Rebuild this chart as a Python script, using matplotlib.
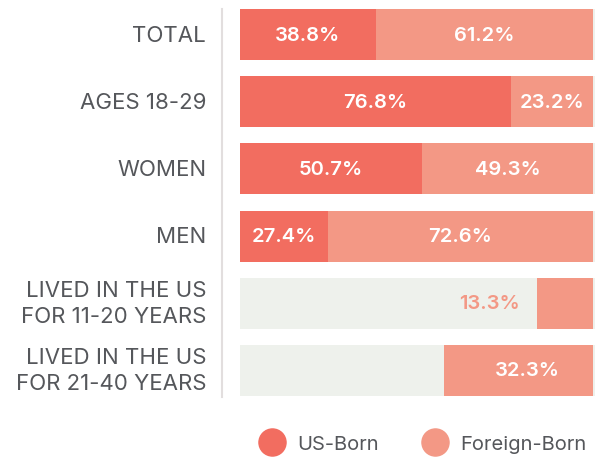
import matplotlib
matplotlib.use("Agg")
import matplotlib.pyplot as plt
from matplotlib.lines import Line2D

categories = ["TOTAL", "AGES 18-29", "WOMEN", "MEN",
              "LIVED IN THE US\nFOR 11-20 YEARS", "LIVED IN THE US\nFOR 21-40 YEARS"]
# values as labelled
us_born = [38.8, 76.8, 50.7, 27.4, None, None]
foreign_born = [61.2, 23.2, 49.3, 72.6, 13.3, 32.3]
# bar lengths as drawn in the picture
us_born_len = [38.5, 76.8, 51.6, 24.9, 0.0, 0.0]
foreign_born_len = [61.5, 23.2, 48.4, 75.1, 15.9, 42.2]
series_names = ["US-Born", "Foreign-Born"]

US_C = "#F26D60"
FB_C = "#F39885"
BG_C = "#EEF1EC"
TXT_C = "#55575B"

plt.rcParams['font.family'] = ['Inter', 'DejaVu Sans']

fig = plt.figure(figsize=(6, 4.6), dpi=100)
ax = fig.add_axes([0.4, 1 - 405 / 460, 355 / 600, 403 / 460])

n = len(categories)
ys = list(range(n))
h = 0.76
ax.barh(ys, [100.6] * n, height=h, color=BG_C, zorder=1)
ax.barh(ys, us_born_len, height=h, color=US_C, zorder=2)
lefts = [100 - f for f in foreign_born_len]
ax.barh(ys, foreign_born_len, left=lefts, height=h, color=FB_C, zorder=2)

VS = 14.5
for i in ys:
    fb_lab = f"{foreign_born[i]:.1f}%"
    if us_born[i] is not None:
        ax.text(us_born_len[i] / 2, i, f"{us_born[i]:.1f}%", ha="center", va="center",
                color="white", fontsize=VS, fontweight=600, zorder=3)
        ax.text(lefts[i] + foreign_born_len[i] / 2, i, fb_lab, ha="center",
                va="center", color="white", fontsize=VS, fontweight=600, zorder=3)
    else:
        if foreign_born_len[i] < 25:
            ax.text(lefts[i] - 4.8, i, fb_lab, ha="right", va="center",
                    color=FB_C, fontsize=VS, fontweight=600, zorder=3)
        else:
            ax.text(lefts[i] + foreign_born_len[i] / 2 + 2.5, i, fb_lab, ha="center",
                    va="center", color="white", fontsize=VS, fontweight=600, zorder=3)
    ax.text(-9.6, i, categories[i], ha="right", va="center", color=TXT_C,
            fontsize=16, linespacing=1.38, multialignment="right",
            transform=ax.transData, clip_on=False)

ax.set_xlim(0, 100.6)
ax.set_ylim(n - 0.5, -0.5)
ax.axis("off")

fig.add_artist(Line2D([222 / 600, 222 / 600], [1 - 10 / 460, 1 - 398 / 460],
                      color="#E2DEDE", lw=1.5, transform=fig.transFigure))

handles = [Line2D([], [], ls="none", marker="o", markersize=19.5, color=US_C),
           Line2D([], [], ls="none", marker="o", markersize=19.5, color=FB_C)]
fig.legend(handles, series_names, loc="center", bbox_to_anchor=(0.705, 1 - 445 / 460),
           ncol=2, frameon=False, handletextpad=0.65, columnspacing=2.2,
           prop={"size": 14.5}, labelcolor=TXT_C, handlelength=1.2)

fig.savefig("out.png", dpi=100)
